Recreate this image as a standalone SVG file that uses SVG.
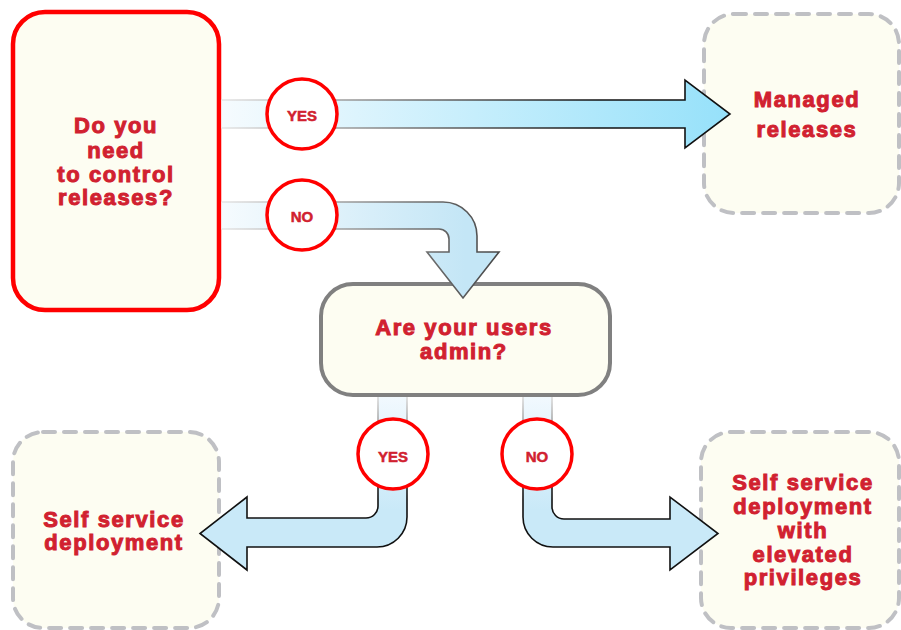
<svg xmlns="http://www.w3.org/2000/svg" width="901" height="630" viewBox="0 0 901 630">
<defs>
<style>
.lbl{font-family:"Liberation Sans",Arial,sans-serif;font-weight:bold;font-size:22px;fill:#d12130;stroke:#d12130;stroke-width:1;letter-spacing:1.6px;text-anchor:middle}
.sm{font-family:"Liberation Sans",Arial,sans-serif;font-weight:bold;font-size:15px;fill:#d12130;stroke:#d12130;stroke-width:0.5;text-anchor:middle}
.dash{fill:#fdfdf2;stroke:#bfc0c4;stroke-width:4;stroke-dasharray:12 9;stroke-linecap:round}
.badge{fill:#ffffff;stroke:#ff0000;stroke-width:3.5}
.arr{stroke-width:1.6;stroke-linejoin:miter}
</style>
<linearGradient id="fYes" gradientUnits="userSpaceOnUse" x1="220" y1="0" x2="730" y2="0">
<stop offset="0" stop-color="#f6fbfe"/><stop offset="1" stop-color="#96e1fa"/>
</linearGradient>
<linearGradient id="sH" gradientUnits="userSpaceOnUse" x1="220" y1="0" x2="600" y2="0">
<stop offset="0" stop-color="#e6e6e6"/><stop offset="0.5" stop-color="#777"/><stop offset="1" stop-color="#111"/>
</linearGradient>
<linearGradient id="fNo" gradientUnits="userSpaceOnUse" x1="220" y1="0" x2="465" y2="0">
<stop offset="0" stop-color="#f6fbfe"/><stop offset="1" stop-color="#c4e6f6"/>
</linearGradient>
<linearGradient id="fV" gradientUnits="userSpaceOnUse" x1="0" y1="395" x2="0" y2="510">
<stop offset="0" stop-color="#f2f9fe"/><stop offset="1" stop-color="#c9e9f8"/>
</linearGradient>
<linearGradient id="sV" gradientUnits="userSpaceOnUse" x1="0" y1="395" x2="0" y2="500">
<stop offset="0" stop-color="#e0e0e0"/><stop offset="0.6" stop-color="#555"/><stop offset="1" stop-color="#111"/>
</linearGradient>
</defs>
<rect width="901" height="630" fill="#ffffff"/>

<g id="q-control">
<rect x="13" y="12" width="206" height="298" rx="32" fill="#fdfdf2" stroke="#ff0000" stroke-width="4.5"/>
<text class="lbl" x="116" y="133">Do you</text>
<text class="lbl" x="116" y="158">need</text>
<text class="lbl" x="116" y="182">to control</text>
<text class="lbl" x="116" y="205">releases?</text>
</g>

<g id="managed">
<rect class="dash" x="704" y="14" width="195" height="199" rx="30"/>
<text class="lbl" x="807" y="107">Managed</text>
<text class="lbl" x="807" y="137">releases</text>
</g>

<g id="q-admin">
<rect x="321" y="284" width="289" height="111" rx="32" fill="#fdfdf2" stroke="#808080" stroke-width="4"/>
<text class="lbl" x="464" y="335">Are your users</text>
<text class="lbl" x="464" y="359">admin?</text>
</g>

<g id="self-service">
<rect class="dash" x="13" y="432" width="206" height="196" rx="30"/>
<text class="lbl" x="114" y="527">Self service</text>
<text class="lbl" x="114" y="550">deployment</text>
</g>

<g id="self-service-elevated">
<rect class="dash" x="701" y="432" width="198" height="196" rx="30"/>
<text class="lbl" x="803" y="490">Self service</text>
<text class="lbl" x="803" y="514">deployment</text>
<text class="lbl" x="803" y="538">with</text>
<text class="lbl" x="803" y="562">elevated</text>
<text class="lbl" x="803" y="585">privileges</text>
</g>

<g id="connectors">
<path class="arr" d="M221.5,100 H685 V80 L730,114 L685,148 V128 H221.5" fill="url(#fYes)" stroke="url(#sH)"/>
<path class="arr" d="M221.5,202 H443 A34,34 0 0 1 477,236 V252 H499 L463,298 L427,252 H449 V239 A10,10 0 0 0 439,229 H221.5" fill="url(#fNo)" stroke="url(#sH)"/>
<path class="arr" d="M378,397 V506 A12,12 0 0 1 366,518 H247 V497 L200,533.5 L247,570 V547 H377 A30,30 0 0 0 407,517 V397" fill="url(#fV)" stroke="url(#sV)"/>
<path class="arr" d="M552,397 V507 A12,12 0 0 0 564,519 H670 V497 L718,533.5 L670,570 V547 H553 A30,30 0 0 1 523,517 V397" fill="url(#fV)" stroke="url(#sV)"/>
<g id="badge-yes-1"><circle class="badge" cx="302" cy="114" r="35"/><text class="sm" x="302" y="121">YES</text></g>
<g id="badge-no-1"><circle class="badge" cx="302" cy="215" r="35"/><text class="sm" x="302" y="222">NO</text></g>
<g id="badge-yes-2"><circle class="badge" cx="393" cy="454" r="35"/><text class="sm" x="393" y="462">YES</text></g>
<g id="badge-no-2"><circle class="badge" cx="537" cy="454" r="35"/><text class="sm" x="537" y="462">NO</text></g>
</g>
</svg>
